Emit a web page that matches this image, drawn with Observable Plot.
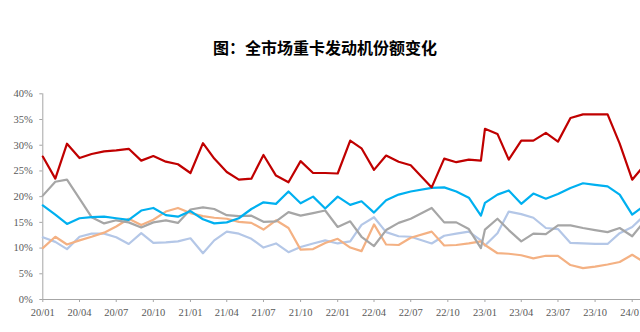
<!DOCTYPE html>
<html>
<head>
<meta charset="utf-8">
<script src="https://cdn.jsdelivr.net/npm/d3@7"></script>
<script src="https://cdn.jsdelivr.net/npm/@observablehq/plot@0.6"></script>
<style>
  html, body { margin: 0; padding: 0; width: 640px; height: 332px; overflow: hidden; background: #fff; }
  #title { position: absolute; top: 37px; left: 0; width: 650px; text-align: center;
           font-family: "Noto Sans CJK SC", sans-serif; font-weight: bold; font-size: 16px; line-height: 20px; color: #000; }
  #chart { position: absolute; top: 70px; left: 0; width: 680px; }
  #chart svg { max-width: none !important; }
</style>
</head>
<body>
<div id="title">图：全市场重卡发动机份额变化</div>
<div id="chart"></div>
<script>
const titleText = "图：全市场重卡发动机份额变化";

const dates = [
  "2020-01-01","2020-02-01","2020-03-01","2020-04-01","2020-05-01","2020-06-01","2020-07-01","2020-08-01","2020-09-01","2020-10-01","2020-11-01","2020-12-01",
  "2021-01-01","2021-02-01","2021-03-01","2021-04-01","2021-05-01","2021-06-01","2021-07-01","2021-08-01","2021-09-01","2021-10-01","2021-11-01","2021-12-01",
  "2022-01-01","2022-02-01","2022-03-01","2022-04-01","2022-05-01","2022-06-01","2022-07-01",
  "2022-08-22","2022-09-22","2022-10-22","2022-11-22","2022-12-22",
  "2023-01-01","2023-02-01","2023-03-01","2023-04-01","2023-05-01","2023-06-01","2023-07-01","2023-08-01","2023-09-01","2023-10-01","2023-11-01","2023-12-01",
  "2024-01-01","2024-02-01"
];

const seriesRed = [
  27.8, 23.5, 30.3, 27.5, 28.3, 28.8, 29.0, 29.3, 27.0, 27.9, 26.8, 26.3,
  24.6, 30.4, 27.4, 24.8, 23.3, 23.5, 28.1, 24.1, 22.8, 26.9, 24.6, 24.6,
  24.5, 30.9, 29.4, 25.2, 28.0, 26.8, 26.1,
  21.8, 27.4, 26.7, 27.2, 27.0,
  33.2, 32.2, 27.2, 30.9, 30.9, 32.4, 30.7, 35.3, 36.0, 36.0, 36.0, 30.3,
  23.3, 26.2
];
const seriesBlue = [
  18.3, 16.5, 14.7, 15.8, 16.0, 16.1, 15.8, 15.5, 17.3, 17.8, 16.4, 16.1,
  17.2, 15.6, 14.8, 15.0, 15.8, 17.6, 18.9, 18.6, 21.0, 18.7, 20.0, 17.7,
  20.0, 18.4, 19.1, 16.9, 19.3, 20.4, 21.0,
  21.7, 21.8, 21.0, 19.8, 16.3,
  18.8, 20.4, 21.2, 18.6, 20.6, 19.6, 20.5, 21.7, 22.6, 22.3, 22.0, 20.4,
  16.5, 18.3
];
const seriesGray = [
  20.2, 22.9, 23.3, 19.6, 16.0, 14.8, 15.4, 15.0, 14.0, 15.0, 15.4, 14.9,
  17.5, 17.9, 17.6, 16.4, 16.2, 16.3, 15.1, 15.2, 17.0, 16.3, 16.8, 17.3,
  14.1, 15.2, 12.2, 10.4, 13.5, 14.9, 15.7,
  17.8, 15.0, 15.0, 13.7, 10.0,
  13.6, 15.7, 13.5, 11.3, 12.8, 12.7, 14.4, 14.4, 13.9, 13.5, 13.1, 13.9,
  12.3, 15.3
];
const seriesOrange = [
  10.0, 12.2, 10.7, 11.5, 12.2, 13.0, 14.2, 15.7, 14.5, 15.5, 17.1, 17.8,
  16.8, 16.2, 15.9, 15.7, 15.1, 14.9, 13.6, 15.4, 13.9, 9.7, 9.8, 11.0,
  11.8, 10.1, 9.4, 14.6, 10.7, 10.6, 12.0,
  13.2, 10.5, 10.6, 10.9, 11.3,
  10.6, 9.0, 8.9, 8.6, 8.0, 8.5, 8.5, 6.7, 6.1, 6.4, 6.8, 7.3,
  8.7, 7.2
];
const seriesLightBlue = [
  12.1, 11.2, 9.8, 12.2, 12.8, 12.8, 12.1, 10.8, 12.9, 11.0, 11.1, 11.3,
  11.9, 9.0, 11.5, 13.2, 12.8, 11.8, 10.1, 10.9, 9.2, 10.2, 10.9, 11.5,
  10.9, 11.3, 14.5, 16.0, 13.1, 12.3, 12.2,
  10.9, 12.4, 12.8, 13.2, 11.5,
  10.5, 12.9, 17.1, 16.6, 15.9, 13.9, 13.7, 11.0, 10.9, 10.8, 10.8, 12.9,
  14.1, 16.4
];

const seriesNames = ["系列1", "系列2", "系列3", "系列4", "系列5"];
const seriesColors = ["#C00000", "#00B0F0", "#A6A6A6", "#F4B183", "#B4C7E7"];

const xTickLabels = ["2020-01-01","2020-04-01","2020-07-01","2020-10-01","2021-01-01","2021-04-01","2021-07-01","2021-10-01",
  "2022-01-01","2022-04-01","2022-07-01","2022-10-01","2023-01-01","2023-04-01","2023-07-01","2023-10-01","2024-01-01"];
const yTicks = [0, 5, 10, 15, 20, 25, 30, 35, 40];

const parse = d3.utcParse("%Y-%m-%d");
const allSeries = [seriesRed, seriesBlue, seriesGray, seriesOrange, seriesLightBlue];
const rows = [];
// draw order: later series drawn first so red ends on top
[4, 3, 2, 1, 0].forEach(si => {
  allSeries[si].forEach((v, i) => rows.push({ date: parse(dates[i]), value: v, series: seriesNames[si] }));
});

const W = 680, H = 262;
const chart = Plot.plot({
  width: W,
  height: H,
  marginLeft: 42.3,
  marginRight: 0,
  marginTop: 23.3,
  marginBottom: 33,
  style: { fontFamily: "'Liberation Serif', 'Times New Roman', serif", fontSize: "10.5px", color: "#595959", background: "transparent", maxWidth: "none" },
  x: { type: "utc", domain: [parse("2020-01-01"), parse("2024-01-01")], range: [42.3, 631.7] },
  y: { domain: [0, 40], range: [229, 23.3] },
  color: { domain: seriesNames, range: seriesColors },
  marks: [
    Plot.ruleY([0], { stroke: "#A6A6A6", strokeWidth: 1 }),
    Plot.ruleX([parse(dates[0])], { y1: 0, y2: 40, stroke: "#A6A6A6", strokeWidth: 1 }),
    Plot.axisY({ ticks: yTicks, tickSize: 3, tickPadding: 7, stroke: "#A6A6A6", tickFormat: d => d + "%", label: null }),
    Plot.axisX({ ticks: xTickLabels.map(parse), tickSize: 3, tickPadding: 6, stroke: "#A6A6A6", tickFormat: d3.utcFormat("%y/%m"), label: null }),
    Plot.line(rows, { x: "date", y: "value", z: "series", stroke: "series", strokeWidth: 2.2, curve: "linear" })
  ]
});
chart.style.maxWidth = "none";
document.getElementById("chart").appendChild(chart);
</script>
</body>
</html>
